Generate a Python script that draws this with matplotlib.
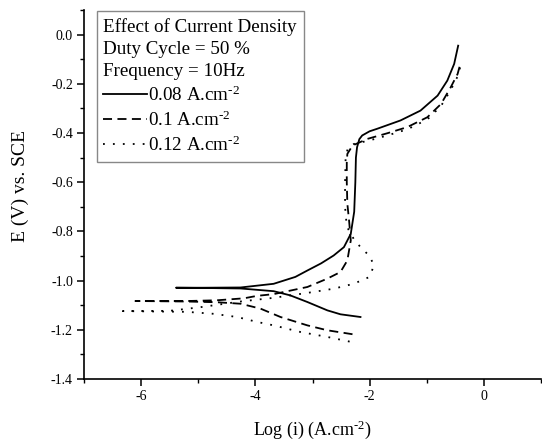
import matplotlib
matplotlib.use("Agg")
import matplotlib.pyplot as plt
from matplotlib.ticker import MultipleLocator

plt.rcParams["font.family"] = ["Liberation Serif", "DejaVu Serif"]
plt.rcParams["mathtext.fontset"] = "custom"
plt.rcParams["mathtext.rm"] = "Liberation Serif"
plt.rcParams["mathtext.it"] = "Liberation Serif:italic"

# ── Data: log(i) vs E, cathodic end -> Ecorr -> anodic end ──
labels = ["0.08 A.cm$^{\\text{-2}}$", "0.1 A.cm$^{\\text{-2}}$", "0.12 A.cm$^{\\text{-2}}$"]

logi_008 = [-2.16, -2.51, -2.74, -3.09, -3.39, -3.68, -4.26, -4.90, -5.39,
            -4.90, -4.26, -3.68, -3.30, -3.09, -2.85, -2.63, -2.45, -2.33, -2.27,
            -2.25, -2.24, -2.22, -2.18, -2.13, -2.00, -1.87, -1.46, -1.11, -0.81,
            -0.64, -0.52, -0.45]
e_008 = [-1.148, -1.137, -1.121, -1.087, -1.060, -1.043, -1.032, -1.030, -1.029,
         -1.029, -1.028, -1.013, -0.985, -0.959, -0.930, -0.898, -0.864, -0.810, -0.720,
         -0.600, -0.500, -0.458, -0.425, -0.410, -0.393, -0.383, -0.349, -0.309, -0.248,
         -0.187, -0.119, -0.045]

logi_01 = [-2.30, -2.74, -3.09, -3.56, -3.91, -4.26, -4.67, -5.20, -6.10,
           -5.20, -4.67, -4.20, -3.97, -3.68, -3.09, -2.74, -2.51, -2.39, -2.33,
           -2.36, -2.39, -2.40, -2.40, -2.39, -2.30, -2.04, -1.69, -1.34, -0.99,
           -0.75, -0.58, -0.46, -0.42]
e_01 = [-1.218, -1.202, -1.182, -1.148, -1.114, -1.094, -1.088, -1.085, -1.083,
        -1.083, -1.080, -1.072, -1.062, -1.055, -1.026, -0.992, -0.965, -0.918, -0.837,
        -0.755, -0.688, -0.600, -0.520, -0.485, -0.451, -0.424, -0.401, -0.376, -0.336,
        -0.282, -0.214, -0.160, -0.126]

logi_012 = [-2.35, -2.74, -3.21, -3.68, -3.97, -4.32, -4.73, -5.20, -6.32,
            -5.50, -4.96, -4.26, -3.68, -3.09, -2.63, -2.28, -2.01, -1.92, -2.01,
            -2.16, -2.28, -2.40, -2.43, -2.43, -2.42, -2.38, -2.28, -2.00, -1.69,
            -1.34, -0.99, -0.75, -0.58, -0.46, -0.40]
e_012 = [-1.248, -1.229, -1.209, -1.182, -1.168, -1.148, -1.135, -1.127, -1.124,
         -1.123, -1.108, -1.085, -1.070, -1.050, -1.033, -1.013, -0.986, -0.938, -0.898,
         -0.864, -0.830, -0.780, -0.700, -0.600, -0.500, -0.460, -0.445, -0.430, -0.410,
         -0.385, -0.345, -0.290, -0.225, -0.170, -0.120]

fig = plt.figure(figsize=(5.42, 4.41), dpi=100)
ax = fig.add_axes([84 / 542, 1 - 379 / 441, 457 / 542, 369 / 441])

ax.plot(logi_008, e_008, color="black", lw=1.3, linestyle="-", label=labels[0])
ax.plot(logi_01, e_01, color="black", lw=1.3, linestyle=(0, (5, 3)), label=labels[1])
ax.plot(logi_012, e_012, color="black", lw=1.3, linestyle=(0, (1, 4.5)), label=labels[2])

ax.set_xlim(-7, 1)
ax.set_ylim(-1.4, 0.1)
ax.xaxis.set_minor_locator(MultipleLocator(1))
ax.yaxis.set_minor_locator(MultipleLocator(0.1))
ax.set_xticks([-6, -4, -2, 0])
ax.set_xticklabels(["-6", "-4", "-2", "0"])
yt = [0.0, -0.2, -0.4, -0.6, -0.8, -1.0, -1.2, -1.4]
ax.set_yticks(yt)
ax.set_yticklabels(["0.0"] + [f"{v:.1f}" for v in yt[1:]])

for s in ["top", "right"]:
    ax.spines[s].set_visible(False)
for s in ["left", "bottom"]:
    ax.spines[s].set_linewidth(1.2)
ax.tick_params(which="major", direction="out", length=5, width=1.1, labelsize=10, pad=3)
ax.tick_params(which="minor", direction="out", length=3, width=1.0)

ax.set_xlabel("Log (i) (A.cm$^{\\text{-2}}$)", fontsize=13)
ax.set_ylabel("E (V) vs. SCE", fontsize=14)
ax.xaxis.set_label_coords(0.5, -0.108)
ax.yaxis.set_label_coords(-0.14, 0.523)
ax.yaxis.label.set_va("center")

leg = ax.legend(loc="upper left", bbox_to_anchor=(0.028, 0.997), borderaxespad=0,
                title="Effect of Current Density\nDuty Cycle = 50 %\nFrequency = 10Hz",
                alignment="left", fontsize=13.7, title_fontsize=13.7,
                handlelength=2.3, handletextpad=0.05, labelspacing=0.3,
                borderpad=0.35, fancybox=False, framealpha=1, edgecolor="#888888")
leg.get_frame().set_linewidth(1.0)
leg.get_title().set_linespacing(1.38)

fig.savefig("out.png", dpi=100)
